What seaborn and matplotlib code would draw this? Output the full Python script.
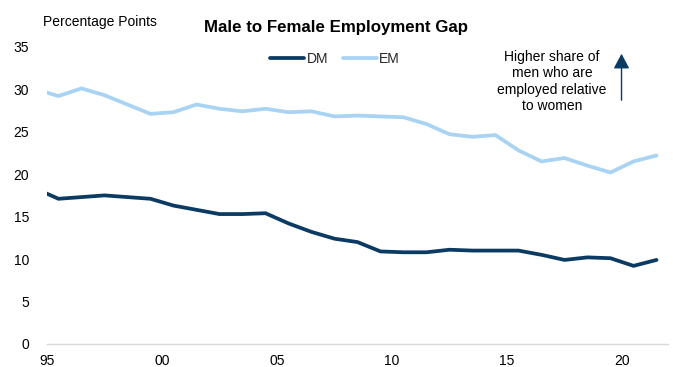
import matplotlib
matplotlib.use("Agg")
import matplotlib.pyplot as plt
import seaborn as sns
import pandas as pd
import numpy as np

# Data (annual observations, plotted at mid-year; the 1994 point is clipped at the axis start)
years = list(range(1994, 2022))
dm = [18.3, 17.1, 17.3, 17.5, 17.3, 17.1, 16.3, 15.8, 15.3, 15.3, 15.4, 14.2, 13.2, 12.4,
      12.0, 10.9, 10.8, 10.8, 11.1, 11.0, 11.0, 11.0, 10.5, 9.9, 10.2, 10.1, 9.2, 9.9]
em = [30.0, 29.2, 30.1, 29.3, 28.2, 27.1, 27.3, 28.2, 27.7, 27.4, 27.7, 27.3, 27.4, 26.8,
      26.9, 26.8, 26.7, 25.9, 24.7, 24.4, 24.6, 22.8, 21.5, 21.9, 21.0, 20.2, 21.5, 22.2]
series_names = ["DM", "EM"]
tick_years = [1995, 2000, 2005, 2010, 2015, 2020]
tick_labels = ["95", "00", "05", "10", "15", "20"]
yticks = [0, 5, 10, 15, 20, 25, 30, 35]

sns.set_theme(style="white")
plt.rcParams["font.family"] = ["Liberation Sans", "DejaVu Sans"]

df = pd.DataFrame({
    "x": [y + 0.5 for y in years] * 2,
    "value": dm + em,
    "series": [series_names[0]] * len(years) + [series_names[1]] * len(years),
})

fig = plt.figure(figsize=(6.73, 3.67), dpi=100)
ax = fig.add_axes([0.0698, 0.0627, 0.9228, 0.8098])

palette = {"DM": "#0B3A62", "EM": "#A9D3F2"}
sns.lineplot(data=df, x="x", y="value", hue="series", palette=palette,
             linewidth=2.7, ax=ax, legend=False)
for line in ax.get_lines():
    line.set_solid_joinstyle("miter")

ax.set_xlim(1995, 2022)
ax.set_ylim(0, 35)
ax.set_xticks(tick_years)
ax.set_xticklabels(tick_labels)
ax.set_yticks(yticks)
ax.set_xlabel("")
ax.set_ylabel("")

for s in ["top", "right", "left"]:
    ax.spines[s].set_visible(False)
ax.spines["bottom"].set_color("#D9D9D9")
ax.spines["bottom"].set_linewidth(1.0)
ax.tick_params(axis="x", which="major", direction="out", length=3, width=1,
               color="#D9D9D9", labelsize=10, labelcolor="#000000", pad=4)
ax.tick_params(axis="y", length=0, labelsize=10, labelcolor="#000000", pad=13)

# Title and y-unit label
fig.text(0.5, 0.925, "Male to Female Employment Gap", ha="center", va="center",
         fontsize=12.2, fontweight="bold", color="#000000")
fig.text(0.064, 0.940, "Percentage Points", ha="left", va="center",
         fontsize=10, color="#000000")

# Legend
from matplotlib.lines import Line2D
handles = [Line2D([], [], color=palette[n], linewidth=2.7) for n in series_names]
leg = fig.legend(handles, series_names, loc="center", bbox_to_anchor=(0.498, 0.84),
                 ncol=2, frameon=False, fontsize=10, handlelength=2.4,
                 handletextpad=0.2, columnspacing=1.1)

# Annotation
fig.text(0.820, 0.778, "Higher share of\nmen who are\nemployed relative\nto women",
         ha="center", va="center", fontsize=10, color="#000000", linespacing=1.2)
fig.add_artist(matplotlib.patches.FancyArrowPatch(
    (0.9235, 1 - 103 / 367), (0.9235, 1 - 51 / 367), transform=fig.transFigure,
    arrowstyle="-|>,head_length=6,head_width=3.2", color="#0B3A62", linewidth=1.0,
    mutation_scale=1.5))

fig.savefig("out.png", dpi=100)
